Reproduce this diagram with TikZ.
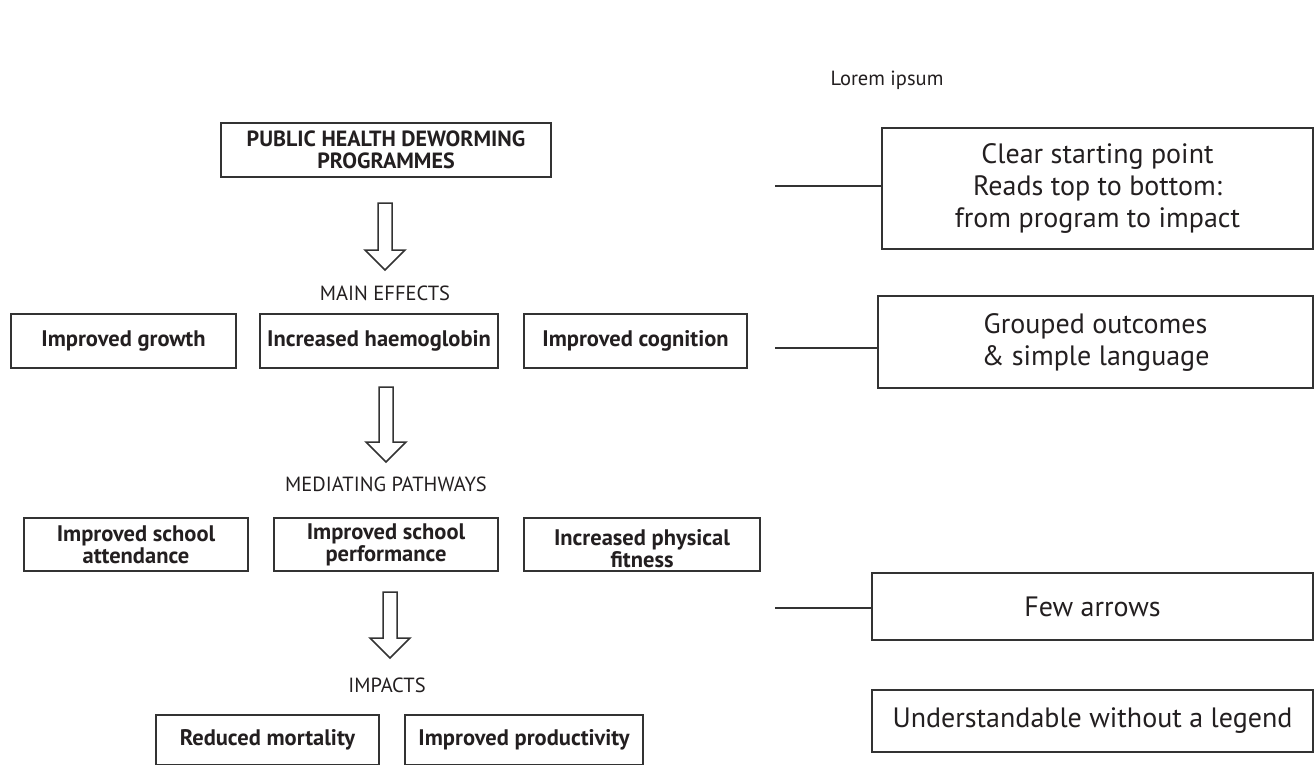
\documentclass[tikz,border=0pt]{standalone}
\usepackage{fontspec}
\setmainfont{PT Sans}
\definecolor{txt}{HTML}{231F20}
\definecolor{boxc}{HTML}{333333}
\newcommand\hollowarrow[4]{%
  \draw[harrow] (#1-7,#2) -- (#1+7,#2) -- (#1+7,#3) -- (#1+20,#3) -- (#1,#4) -- (#1-20,#3) -- (#1-7,#3) -- cycle;}
\begin{document}
\begin{tikzpicture}[x=1pt,y=-1pt,
  lbox/.style={draw=boxc, line width=1.8pt, inner sep=0pt, font=\bfseries\fontsize{22.5}{22}\selectfont, align=center, text=txt},
  rbox/.style={draw=boxc, line width=1.4pt, inner sep=0pt, font=\fontsize{28}{32}\selectfont, align=center, text=txt},
  lab/.style={font=\fontsize{20.5}{22}\selectfont, text=txt},
  link/.style={draw=boxc, line width=1.4pt},
  harrow/.style={draw=boxc, line width=1.5pt, fill=white, line join=miter}]
\useasboundingbox (0,0) rectangle (1314,764);
\clip (0,0) rectangle (1314,764);
\fill[white] (0,0) rectangle (1314,764);

\node[font=\fontsize{20.5}{24}\selectfont, text=txt] (title) at (887,80) {Lorem ipsum};

% left column
\node[lbox, font=\bfseries\fontsize{22}{22}\selectfont, minimum width=330, minimum height=54] (prog) at (386,150) {PUBLIC HEALTH DEWORMING\\PROGRAMMES};
\hollowarrow{385}{203}{250}{270}
\node[lab] (main) at (385,293) {MAIN EFFECTS};

\node[lbox, minimum width=225, minimum height=54] (grow) at (123.5,341) {Improved growth};
\node[lbox, minimum width=238, minimum height=54] (haem) at (379,341) {Increased haemoglobin};
\node[lbox, minimum width=223, minimum height=54] (cogn) at (635.5,341) {Improved cognition};
\hollowarrow{386}{387}{442}{462}
\node[lab] (med) at (386,484) {MEDIATING PATHWAYS};

\node[lbox, minimum width=224, minimum height=53] (att) at (136,544.5) {Improved school\\attendance};
\node[lbox, minimum width=224, minimum height=53] (perf) at (386,544.5) {Improved school\\performance};
\node[lbox, minimum width=236, minimum height=53] (fit) at (642,544.5) {};
\node[font=\bfseries\fontsize{22.5}{22}\selectfont, text=txt, align=center] at (642,549) {Increased physical\\fitness};
\hollowarrow{390}{592}{638}{658}
\node[lab] (imp) at (387,685) {IMPACTS};

\node[lbox, minimum width=223, minimum height=50] (mort) at (267.5,740) {Reduced mortality};
\node[lbox, minimum width=238, minimum height=50] (prod) at (524,740) {Improved productivity};

% right column
\node[rbox, minimum width=431, minimum height=121] (clear) at (1097.5,188.5) {Clear starting point\\Reads top to bottom:\\from program to impact};
\node[rbox, minimum width=435, minimum height=92] (group) at (1095.5,342) {Grouped outcomes\\\& simple language};
\node[rbox, minimum width=441, minimum height=67] (few) at (1092.5,606.5) {Few arrows};
\node[rbox, minimum width=441, minimum height=62] (legend) at (1092.5,721) {Understandable without a legend};

\coordinate (s1) at (775,186);
\coordinate (s2) at (775,348);
\coordinate (s3) at (775,608);
\draw[link] (s1) -- (clear.west |- s1);
\draw[link] (s2) -- (group.west |- s2);
\draw[link] (s3) -- (few.west |- s3);
\end{tikzpicture}
\end{document}
